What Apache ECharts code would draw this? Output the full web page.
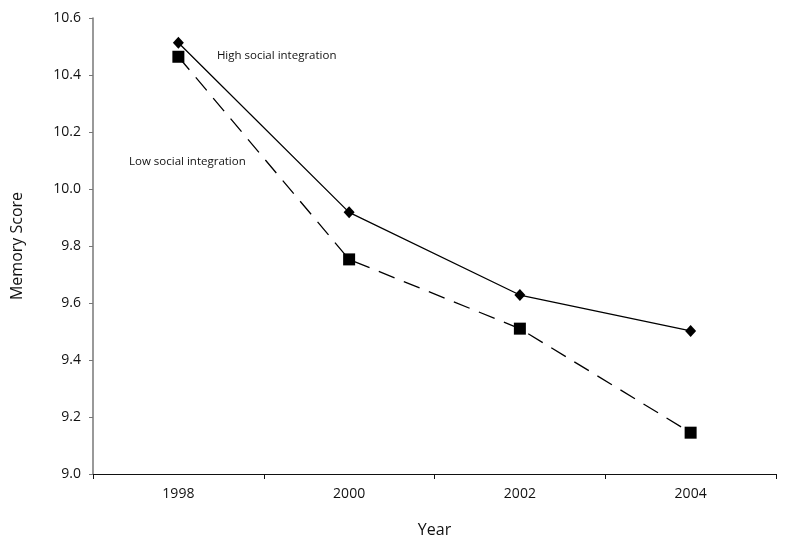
<!DOCTYPE html>
<html><head><meta charset="utf-8">
<script src="https://cdn.jsdelivr.net/npm/echarts@6/dist/echarts.min.js"></script>
<style>html,body{margin:0;padding:0;background:#fff}#c{width:787px;height:549px}</style>
</head><body><div id="c"></div>
<script>
const years = ['1998', '2000', '2002', '2004'];
const highSocial = [10.513, 9.918, 9.628, 9.502];
const lowSocial = [10.464, 9.753, 9.510, 9.145];
const yTicks = ['9.0','9.2','9.4','9.6','9.8','10.0','10.2','10.4','10.6'];
const FONT = 'Open Sans';

const chart = echarts.init(document.getElementById('c'));
chart.setOption({
  animation: false,
  backgroundColor: '#fff',
  grid: { left: 93, right: 11, top: 18, bottom: 75, containLabel: false },
  xAxis: {
    type: 'category', data: years, boundaryGap: true,
    name: 'Year', nameLocation: 'middle', nameGap: 48,
    nameTextStyle: { fontFamily: FONT, fontSize: 16, color: '#111' },
    axisLine: { lineStyle: { color: '#111', width: 1.2 } },
    axisTick: { show: true, length: 5, inside: false, alignWithLabel: false, lineStyle: { color: '#111' } },
    axisLabel: { fontFamily: FONT, fontSize: 14, color: '#111', margin: 13 },
    splitLine: { show: false }
  },
  yAxis: {
    type: 'value', min: 9.0, max: 10.6, interval: 0.2,
    name: 'Memory Score', nameLocation: 'middle', nameGap: 68, nameRotate: 90,
    nameTextStyle: { fontFamily: FONT, fontSize: 16, color: '#111' },
    axisLine: { show: true, lineStyle: { color: '#777', width: 1.5 } },
    axisTick: { show: true, length: 4, lineStyle: { color: '#777' } },
    axisLabel: { fontFamily: FONT, fontSize: 14, color: '#111', margin: 12,
      formatter: (v) => yTicks[Math.round((v - 9.0) / 0.2)] },
    splitLine: { show: false }
  },
  series: [
    {
      name: 'High social integration', type: 'line',
      data: highSocial.map((v, i) => i === 0 ? {
        value: v,
        label: { show: true, position: 'right', offset: [28, 13], formatter: '{a}',
          fontFamily: FONT, fontSize: 11.5, color: '#111' }
      } : v),
      symbol: 'diamond', symbolSize: [11, 12],
      itemStyle: { color: '#000' },
      lineStyle: { color: '#000', width: 1.3, type: 'solid' },
      z: 3
    },
    {
      name: 'Low social integration', type: 'line',
      data: lowSocial.map((v, i) => i === 0 ? {
        value: v,
        label: { show: true, position: 'bottom', offset: [9, 88], formatter: '{a}',
          fontFamily: FONT, fontSize: 11.5, color: '#111' }
      } : v),
      symbol: 'rect', symbolSize: 12,
      itemStyle: { color: '#000' },
      lineStyle: { color: '#000', width: 1.3, type: [17, 10] },
      z: 2
    }
  ]
});
</script>
</body></html>
